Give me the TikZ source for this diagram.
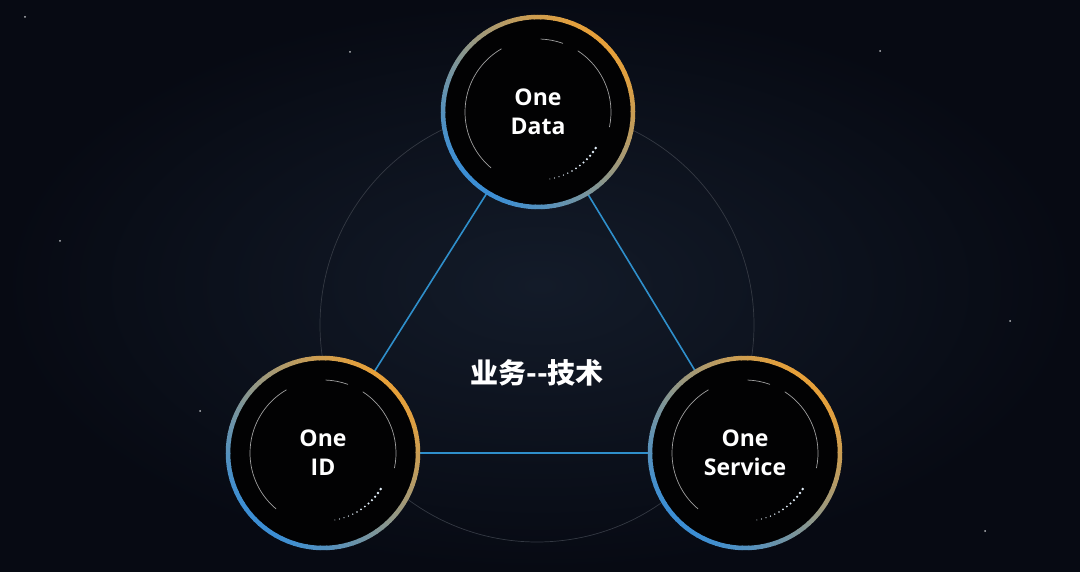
\documentclass[tikz,border=0pt]{standalone}
\usepackage{fontspec}
\setmainfont{Open Sans}
\newfontfamily\cjk{Noto Sans CJK SC}
\usepackage{tikz}
\usetikzlibrary{backgrounds}

\definecolor{bgdark}{HTML}{070A13}
\definecolor{bgmid}{HTML}{131B29}
\definecolor{ringblue}{HTML}{3A8ED6}
\definecolor{ringgold}{HTML}{E6A03A}
\definecolor{linkblue}{HTML}{2F8FCB}

\begin{document}
\begin{tikzpicture}[x=1pt,y=1pt,
    hub/.style={circle,minimum size=190pt,fill=black!92!bgmid,text=white,
      font=\fontsize{23}{29}\selectfont\bfseries,align=center,inner sep=0pt},
    link/.style={linkblue,line width=1.6pt},
    inner/.style={gray!75,line width=0.7pt},
    halo/.style={gray!30!bgmid,line width=0.7pt}]
  \useasboundingbox (0,0) rectangle (1080,571);
  \shade[inner color=bgmid,outer color=bgdark] (0,0) rectangle (1080,571);
  % stars
  \foreach \sx/\sy in {25/554,350/519,985/40,60/330,1010/250,200/160,880/520}
    \fill[white!70!bgmid] (\sx,\sy) circle (1pt);
  % faint halo behind the triangle
  \draw[halo] (537,246) circle (217);

    \draw (538,459) node[hub] (data) {One\\Data};
    \draw (323,118) node[hub] (id) {One\\ID};
    \draw (745,118) node[hub] (service) {One\\Service};
    \draw (537,198) node[text=white,font=\cjk\fontsize{28}{30}\selectfont\bfseries] (biz) {业务--技术};

       \path[link] (data) edge (id);
       \path[link] (data) edge (service);
       \path[link] (id) edge (service);

  % rings, inner arcs and dots
  \foreach \n in {data,id,service}{
    \foreach \a in {0,4,...,356}{
      \pgfmathtruncatemacro\p{50-50*cos(\a-45)}
      \draw[ringblue!\p!ringgold,line width=4.5pt]
        ([shift={(\a:95)}]\n.center) arc[start angle=\a,end angle=\a+4.6,radius=95];
    }
    \draw[inner] ([shift={(120:73)}]\n.center) arc[start angle=120,end angle=230,radius=73];
    \draw[inner] ([shift={(88:73)}]\n.center) arc[start angle=88,end angle=70,radius=73];
    \draw[inner] ([shift={(57:73)}]\n.center) arc[start angle=57,end angle=-12,radius=73];
    \foreach \a in {-80,-76,...,-32}{
      \pgfmathsetmacro\r{0.5+0.9*(\a+80)/48}
      \fill[white!85!ringblue] ([shift={(\a:68)}]\n.center) circle (\r);
    }
  }
\end{tikzpicture}
\end{document}
